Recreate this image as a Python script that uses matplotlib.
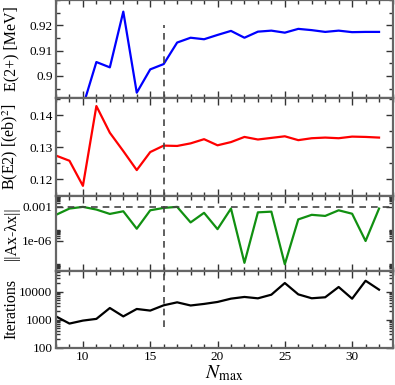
import matplotlib
matplotlib.use('Agg')
import matplotlib.pyplot as plt
from matplotlib.ticker import FixedLocator, FixedFormatter, MultipleLocator, NullFormatter

nmax = list(range(8, 33))
e2 = [0.870, 0.878, 0.888, 0.9055, 0.9034, 0.9254, 0.8934, 0.9026, 0.9047, 0.9132,
      0.9151, 0.9145, 0.9162, 0.9178, 0.9151, 0.9175, 0.9179, 0.9171, 0.9186, 0.9181,
      0.9174, 0.9179, 0.9173, 0.9174, 0.9174]
be2 = [0.1274, 0.1258, 0.1180, 0.1428, 0.1345, 0.1288, 0.1229, 0.1285, 0.1305, 0.1304,
       0.1312, 0.1325, 0.1306, 0.1316, 0.1332, 0.1324, 0.1329, 0.1334, 0.1322, 0.1328,
       0.1330, 0.1328, 0.1333, 0.1332, 0.1330]
resid = [2.0e-4, 7.1e-4, 1.0e-3, 5.8e-4, 2.4e-4, 4.1e-4, 1.2e-5, 5.0e-4, 8.1e-4, 1.0e-3,
         4.3e-5, 3.0e-4, 1.1e-5, 7.1e-4, 1.2e-8, 3.3e-4, 3.8e-4, 9.0e-9, 7.9e-5, 2.0e-4,
         1.6e-4, 5.0e-4, 2.5e-4, 1.0e-6, 7.1e-4]
iters = [1300, 720, 920, 1060, 2600, 1300, 2400, 2100, 3250, 4150,
         3200, 3640, 4280, 5620, 6470, 5770, 7800, 20400, 8000, 5800,
         6300, 14700, 5600, 24600, 11800]
n_cut = 16
tol = 1e-3

plt.rcParams['font.family'] = 'Liberation Serif'
plt.rcParams['mathtext.fontset'] = 'stix'

fig = plt.figure(figsize=(3.95, 3.85), dpi=100)
left, right = 56/395, 392.5/395
edges = [385, 385-98, 385-195.5, 385-271, 385-347.5]
axes = []
for i in range(4):
    top = edges[i]/385
    bot = edges[i+1]/385
    ax = fig.add_axes([left, bot, right-left, top-bot], sharex=axes[0] if axes else None)
    axes.append(ax)
ax1, ax2, ax3, ax4 = axes

dash = dict(color='#444444', lw=1.2, dashes=(4, 3))

ax1.plot(nmax, e2, color='blue', lw=1.6)
ax1.set_ylim(0.8913, 0.93)
ax1.yaxis.set_major_locator(FixedLocator([0.9, 0.91, 0.92]))
ax1.yaxis.set_major_formatter(FixedFormatter(['0.9', '0.91', '0.92']))
ax1.yaxis.set_minor_locator(MultipleLocator(0.005))
ax1.plot([n_cut, n_cut], [0.85, 0.92], **dash)
ax1.set_ylabel('E(2+) [MeV]')

ax2.plot(nmax, be2, color='red', lw=1.6)
ax2.set_ylim(0.115, 0.1453)
ax2.yaxis.set_major_locator(FixedLocator([0.12, 0.13, 0.14]))
ax2.yaxis.set_major_formatter(FixedFormatter(['0.12', '0.13', '0.14']))
ax2.yaxis.set_minor_locator(MultipleLocator(0.005))
ax2.axvline(n_cut, **dash)
ax2.set_ylabel('B(E2) [(eb)$^2$]')

ax3.plot(nmax, resid, color='#119011', lw=1.6)
ax3.set_yscale('log')
ax3.set_ylim(2.3e-9, 1e-2)
ax3.yaxis.set_major_locator(FixedLocator([1e-9, 1e-6, 1e-3]))
ax3.yaxis.set_major_formatter(FixedFormatter(['', '1e-06', '0.001']))
ax3.yaxis.set_minor_locator(FixedLocator([k*10.0**p for p in (-9, -6, -3) for k in range(2, 10)]))
ax3.yaxis.set_minor_formatter(NullFormatter())
ax3.axvline(n_cut, **dash)
ax3.axhline(tol, **dash)
ax3.set_ylabel('||Ax-λx||')

ax4.plot(nmax, iters, color='black', lw=1.6)
ax4.set_yscale('log')
ax4.set_ylim(100, 55000)
ax4.yaxis.set_major_locator(FixedLocator([100, 1000, 10000]))
ax4.yaxis.set_major_formatter(FixedFormatter(['100', '1000', '10000']))
ax4.yaxis.set_minor_locator(FixedLocator([k*10.0**p for p in (2, 3, 4) for k in range(2, 10)]))
ax4.yaxis.set_minor_formatter(NullFormatter())
ax4.plot([n_cut, n_cut], [550, 1e6], **dash)
ax4.set_ylabel('Iterations')

ax4.set_xlim(8, 33)
ax4.xaxis.set_major_locator(MultipleLocator(5))
ax4.xaxis.set_minor_locator(MultipleLocator(1))
ax4.set_xlabel('$N_{\\rm max}$', fontsize=14, labelpad=0)

for ax in axes:
    ax.tick_params(which='both', direction='in', top=True, right=True, labelsize=9.5,
                   color='#333333', width=1.0)
    ax.tick_params(which='major', length=5, pad=2.5)
    ax.tick_params(which='minor', length=3)
    for s in ax.spines.values():
        s.set_color('#666666')
        s.set_linewidth(1.6)
    ax.yaxis.label.set_size(11.5)
    ax.yaxis.set_label_coords(-0.108, 0.5)
    if ax is not ax4:
        ax.tick_params(labelbottom=False)

plt.savefig('out.png', dpi=100)
